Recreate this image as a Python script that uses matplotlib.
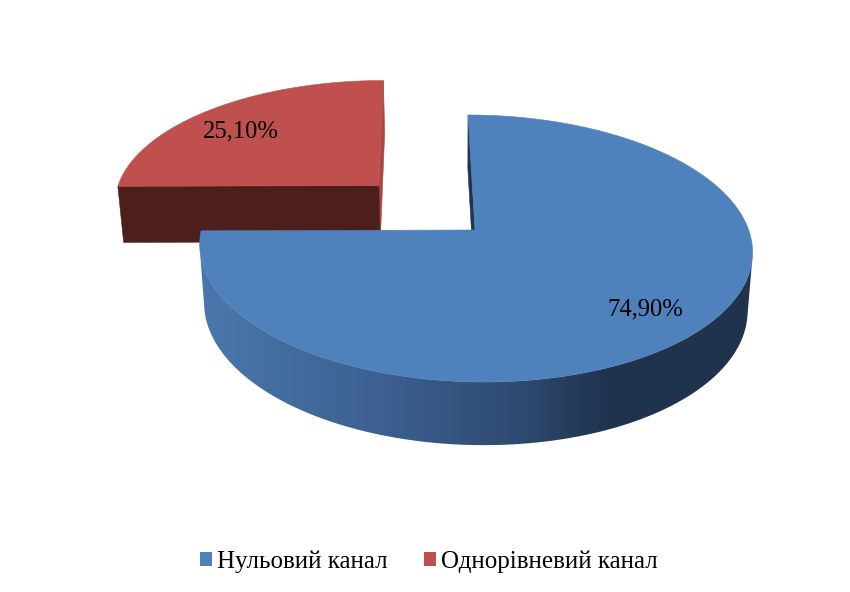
import numpy as np
import matplotlib
matplotlib.use('Agg')
import matplotlib.pyplot as plt
from matplotlib.colors import LinearSegmentedColormap
from matplotlib.patches import Patch, Polygon

labels = ['Нульовий канал', 'Однорівневий канал']
values = [74.9, 25.1]
value_labels = ['74,90%', '25,10%']
top_colors = ['#4F81BD', '#C0504D']

plt.rcParams['font.family'] = ['Liberation Serif', 'DejaVu Serif']

# perspective of the pie plane, everything below is in image pixels
DEPTH = 7.217
X_VANISH, X_SKEW, X_SCALE = 417.5, 415.0, 1975.0
Y_VANISH, Y_SCALE = -715.0, 6820.0
EXPLODE = 0.505


def project(u, v):
    w = DEPTH + v
    return X_VANISH + (X_SKEW + X_SCALE * u) / w, Y_VANISH + Y_SCALE / w


def extrude(x, y):
    # bottom face of the slab: a bit narrower and shifted down
    return 460 + (x - 460) * 0.983, y + 49.4 + 0.036 * y


def rim(a, cu=0.0, cv=0.0):
    # a is clockwise from the top, in radians
    return project(cu + np.sin(a), cv + np.cos(a))


def quad(ax, p0, p1, color, zorder):
    x0, y0 = p0
    x1, y1 = p1
    bx0, by0 = extrude(x0, y0)
    bx1, by1 = extrude(x1, y1)
    ax.add_patch(Polygon([(x0, y0), (x1, y1), (bx1, by1), (bx0, by0)], closed=True,
                         facecolor=color, edgecolor=color, linewidth=0.4, zorder=zorder))


fig = plt.figure(figsize=(8.5, 5.92), dpi=100)
ax = fig.add_axes([0, 0, 1, 1])
ax.axis('off')

side_cmap = LinearSegmentedColormap.from_list('side', [
    (0.0, '#4A78AC'), (0.33, '#3C6090'), (0.58, '#2E4A70'), (0.74, '#1F344E'), (1.0, '#1F334D')])

fractions = np.cumsum([0] + values) / sum(values) * 2 * np.pi

# red slice, pulled out along its middle angle
a0, a1 = fractions[1], fractions[2]
mid = (a0 + a1) / 2
cu, cv = EXPLODE * np.sin(mid), EXPLODE * np.cos(mid)
apex = project(cu, cv)
quad(ax, apex, rim(a1, cu, cv), '#A94744', 2)
quad(ax, apex, rim(a0, cu, cv), '#4D1F1C', 3)
angles = np.linspace(a0, a1, 80)
pts = [apex] + [rim(a, cu, cv) for a in angles]
ax.add_patch(Polygon(pts, closed=True, facecolor=top_colors[1], edgecolor=top_colors[1],
                     linewidth=0.4, zorder=4))

# blue slice
a0, a1 = fractions[0], fractions[1]
apex = project(0, 0)
quad(ax, apex, rim(a0), '#1F344E', 5)
angles = np.linspace(a0, a1, 721)
top_edge = [rim(a) for a in angles]
xs = np.array([p[0] for p in top_edge])
ys = np.array([p[1] for p in top_edge])
# wall only runs between the two silhouette points of the slab
right = np.argmax(58 * xs + 5 * ys)
left = np.argmax(-58 * xs + 4 * ys)
visible = top_edge[right:left + 1]
wall_outline = visible + [extrude(*p) for p in visible][::-1]
wall = Polygon(wall_outline, closed=True, facecolor='none', edgecolor='none',
               transform=ax.transData)
ax.add_patch(wall)
# the outer wall is one horizontal gradient cut to the wall outline
gradient = np.linspace(0, 1, 553).reshape(1, -1)
im = ax.imshow(gradient, cmap=side_cmap, extent=(199, 752, 460, 100), aspect='auto', zorder=6)
im.set_clip_path(wall)
pts = [apex] + top_edge
ax.add_patch(Polygon(pts, closed=True, facecolor=top_colors[0], edgecolor=top_colors[0],
                     linewidth=0.4, zorder=7))

ax.set_xlim(0, 850)
ax.set_ylim(592, 0)

ax.text(645, 309, value_labels[0], ha='center', va='center', fontsize=17.7, color='black', zorder=8)
ax.text(241, 131, value_labels[1], ha='center', va='center', fontsize=17.7, color='black', zorder=8)

handles = [Patch(facecolor=c, edgecolor='none') for c in top_colors]
fig.legend(handles, labels, loc='center', bbox_to_anchor=(429 / 850, 1 - 562 / 592), ncols=2,
           frameon=False, fontsize=18, handlelength=0.48, handleheight=0.48,
           handletextpad=0.2, columnspacing=1.44, borderpad=0, borderaxespad=0)

fig.savefig('out.png', dpi=100, facecolor='white')
